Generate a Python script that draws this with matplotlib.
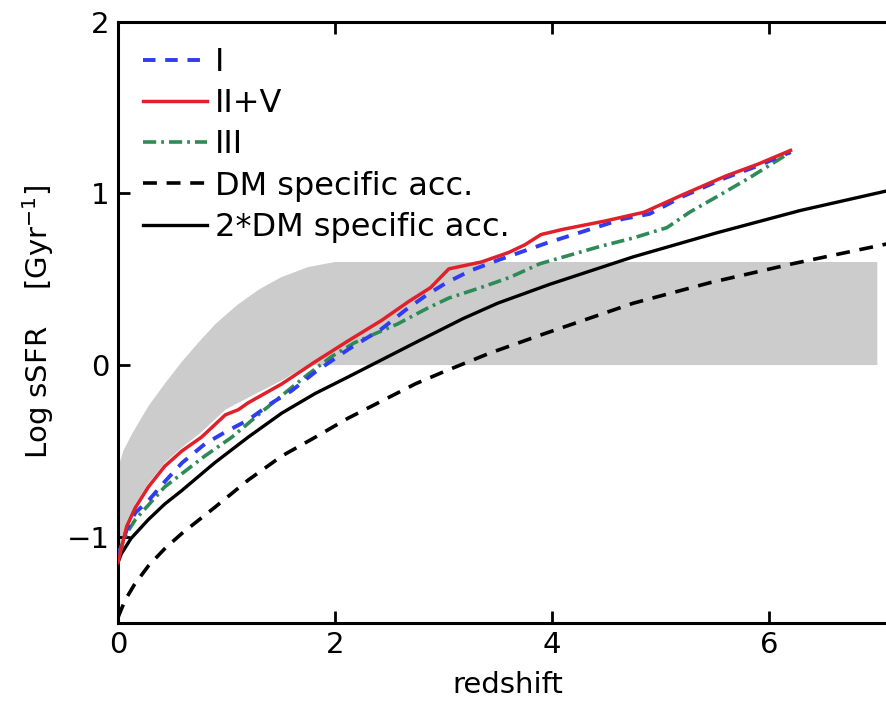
import matplotlib
matplotlib.use("Agg")
import matplotlib.pyplot as plt
import numpy as np

plt.rcParams['font.family'] = ['DejaVu Sans']
plt.rcParams['lines.scale_dashes'] = False

# model curves
z_I = [0, 0.08, 0.16, 0.28, 0.43, 0.59, 0.8, 0.99, 1.2, 1.42, 1.6, 1.82, 2.12, 2.43, 2.65, 2.85,
       3.03, 3.25, 3.5, 3.95, 4.4, 4.65, 4.9, 5.2, 5.6, 5.9, 6.2]
sfr_I = [-1.12, -0.96, -0.86, -0.79, -0.68, -0.57, -0.46, -0.39, -0.32, -0.22, -0.15, -0.04, 0.09,
         0.21, 0.32, 0.41, 0.48, 0.55, 0.61, 0.71, 0.80, 0.85, 0.88, 0.98, 1.09, 1.16, 1.24]

z_II = [0, 0.08, 0.16, 0.28, 0.43, 0.59, 0.77, 0.99, 1.11, 1.2, 1.51, 1.82, 2.12, 2.43, 2.68, 2.88,
        3.05, 3.35, 3.6, 3.75, 3.9, 4.1, 4.5, 4.85, 5.2, 5.6, 5.9, 6.2]
sfr_II = [-1.15, -0.94, -0.83, -0.71, -0.59, -0.50, -0.42, -0.29, -0.26, -0.22, -0.11, 0.02, 0.14,
          0.26, 0.37, 0.45, 0.56, 0.60, 0.655, 0.70, 0.76, 0.79, 0.84, 0.89, 0.99, 1.10, 1.17, 1.25]

z_III = [0, 0.08, 0.16, 0.43, 0.8, 1.05, 1.35, 1.72, 1.97, 2.18, 2.58, 2.85, 3.05, 3.34, 3.61,
         3.89, 4.0, 4.44, 4.75, 5.06, 5.27, 5.52, 5.82, 6.1, 6.2]
sfr_III = [-1.10, -0.98, -0.90, -0.71, -0.53, -0.42, -0.26, -0.07, 0.05, 0.13, 0.24, 0.33, 0.39,
           0.45, 0.51, 0.59, 0.61, 0.69, 0.74, 0.80, 0.89, 0.98, 1.09, 1.20, 1.24]

z_dm = [0, 0.065, 0.15, 0.28, 0.43, 0.59, 0.89, 1.2, 1.51, 1.82, 2.12, 2.43, 2.74, 3.0, 3.43,
        3.92, 4.75, 5.46, 6.22, 7.2]
dm_acc = [-1.47, -1.37, -1.28, -1.17, -1.07, -0.98, -0.83, -0.67, -0.53, -0.42, -0.31, -0.21,
          -0.11, -0.04, 0.07, 0.18, 0.36, 0.48, 0.59, 0.72]

z_dm2 = [0, 0.03, 0.12, 0.28, 0.43, 0.59, 0.89, 1.2, 1.51, 1.82, 2.12, 2.43, 2.74, 3.18, 3.5,
         3.98, 4.75, 5.52, 6.29, 7.2]
dm2_acc = [-1.15, -1.10, -1.01, -0.90, -0.81, -0.73, -0.57, -0.42, -0.28, -0.165, -0.07, 0.03,
           0.13, 0.27, 0.36, 0.47, 0.63, 0.77, 0.90, 1.03]

# observed band
band_z_up = [0, 0.05, 0.13, 0.28, 0.43, 0.59, 0.74, 0.9, 1.1, 1.3, 1.5, 1.75, 2.0, 7.0]
band_up = [-0.60, -0.50, -0.40, -0.24, -0.11, 0.02, 0.13, 0.24, 0.35, 0.44, 0.51, 0.57, 0.60, 0.60]
band_z_lo = [0, 0.16, 0.28, 0.43, 0.59, 0.77, 0.99, 1.2, 1.51, 1.75, 7.0]
band_lo = [-1.10, -0.81, -0.69, -0.57, -0.48, -0.39, -0.26, -0.19, -0.09, 0.0, 0.0]

fig = plt.figure(figsize=(8.86, 7.01), dpi=100)
ax = fig.add_axes([118 / 886, 1 - 622.6 / 701, 781 / 886, 601 / 701])

poly_x = list(band_z_up) + list(band_z_lo[::-1])
poly_y = list(band_up) + list(band_lo[::-1])
ax.fill(poly_x, poly_y, color='#cccccc', lw=0, zorder=1)

ax.plot(z_dm, dm_acc, color='black', lw=2.6, dashes=(10, 7), label='DM specific acc.', zorder=3)
ax.plot(z_dm2, dm2_acc, color='black', lw=2.4, label='2*DM specific acc.', zorder=3)
ax.plot(z_III, sfr_III, color='#2e8b57', lw=2.6, dashes=(9.5, 3.6, 2, 3.6), label='III', zorder=4)
ax.plot(z_I, sfr_I, color='#2f3cf0', lw=2.8, dashes=(9, 7), label='I', zorder=5)
ax.plot(z_II, sfr_II, color='#e0202a', lw=2.5, label='II+V', zorder=6)

ax.set_xlim(0, 7.2)
ax.set_ylim(-1.5, 2)
ax.set_xticks([0, 2, 4, 6])
ax.set_yticks([-1, 0, 1, 2])
ax.set_yticklabels(['\u22121', '0', '1', '2'])
ax.tick_params(direction='in', length=8.5, width=2, labelsize=21, pad=6,
               top=True, right=True)
for s in ax.spines.values():
    s.set_linewidth(2.2)

fig.text(508 / 886, 1 - 685 / 701, 'redshift', fontsize=21, ha='center', va='center')
fig.text(38 / 886, 1 - 322 / 701, 'Log sSFR    [Gyr$^{-1}$]', fontsize=21, rotation=90,
         ha='center', va='center')

h, l = ax.get_legend_handles_labels()
order = [3, 4, 2, 0, 1]
ax.legend([h[i] for i in order], [l[i] for i in order], loc='upper left',
          bbox_to_anchor=(0.032, 0.958), frameon=False, fontsize=23, handlelength=2.0,
          handletextpad=0.25, labelspacing=0.32, borderaxespad=0, borderpad=0)

fig.savefig('out.png', dpi=100)
